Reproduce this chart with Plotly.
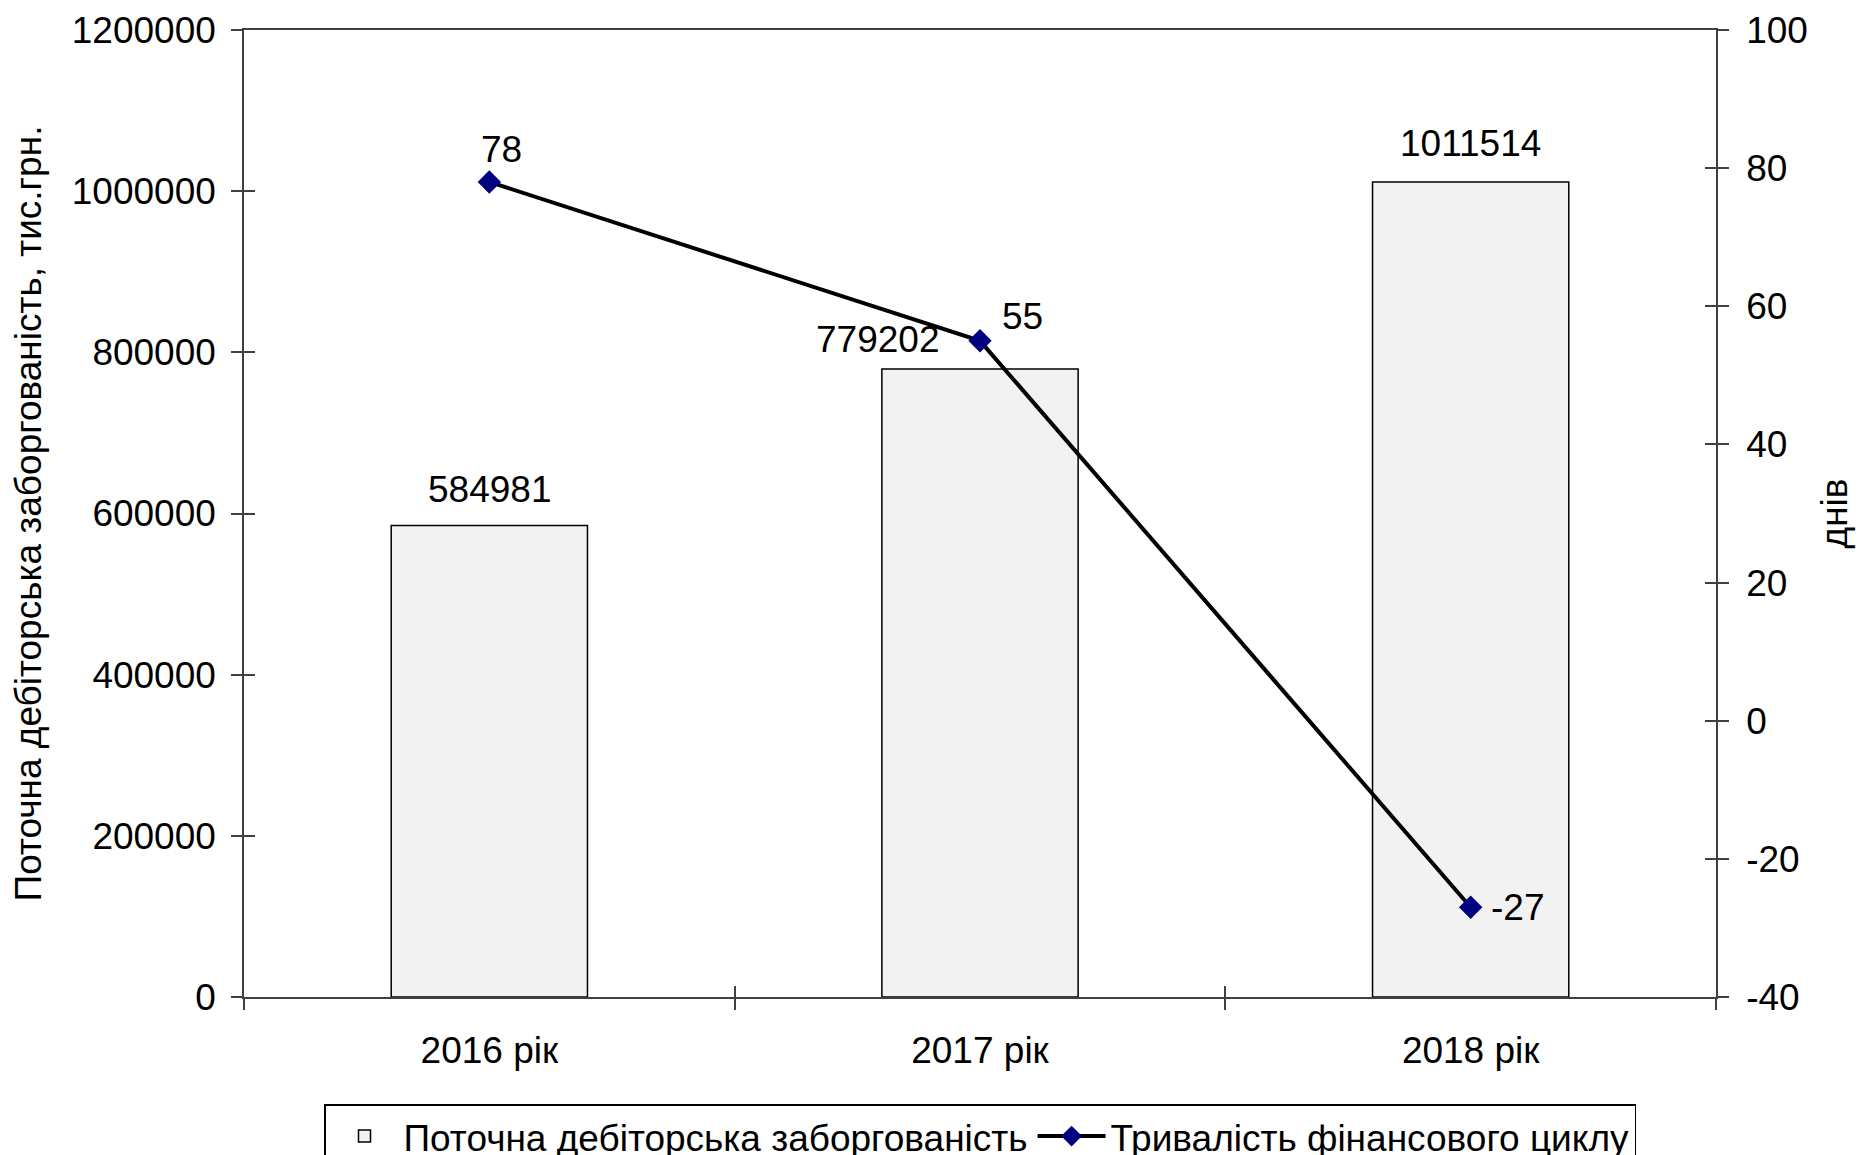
import plotly.graph_objects as go

categories = ["2016 рік", "2017 рік", "2018 рік"]
receivables = [584981, 779202, 1011514]
cycle_days = [78, 55, -27]
right_ticks = [-40, -20, 0, 20, 40, 60, 80, 100]

bar_name = "Поточна дебіторська заборгованість"
line_name = "Тривалість фінансового циклу"
left_title = "Поточна дебіторська заборгованість, тис.грн."
right_title = "днів"

FONT = "Liberation Sans, Arial, sans-serif"
AXIS_COLOR = "#404040"

fig = go.Figure()
fig.add_trace(go.Bar(
    x=categories, y=receivables, name=bar_name,
    marker=dict(color="#F2F2F2", line=dict(color="black", width=1.5)),
    xaxis="x", yaxis="y",
))
fig.add_trace(go.Scatter(
    x=categories, y=cycle_days, name=line_name, mode="lines+markers",
    line=dict(color="black", width=4),
    marker=dict(symbol="diamond", size=18, color="#000080"),
    xaxis="x", yaxis="y2",
))
# invisible helper traces so the inside-tick axes are drawn
fig.add_trace(go.Scatter(x=categories, y=receivables, xaxis="x2", yaxis="y3",
                         mode="markers", marker=dict(opacity=0),
                         showlegend=False, hoverinfo="skip"))
fig.add_trace(go.Scatter(x=categories, y=cycle_days, xaxis="x2", yaxis="y4",
                         mode="markers", marker=dict(opacity=0),
                         showlegend=False, hoverinfo="skip"))

# bar value labels
bar_shift = [(0, 36), (-103, 30), (0, 38)]
for c, v, (dx, dy) in zip(categories, receivables, bar_shift):
    fig.add_annotation(x=c, y=v, xref="x", yref="y", text=str(v), showarrow=False,
                       xshift=dx, yshift=dy, yanchor="middle",
                       font=dict(size=37, color="black", family=FONT))

# line value labels
line_shift = [(12, 32, "center"), (20, 24, "left"), (18, 0, "left")]
for c, v, (dx, dy, xa) in zip(categories, cycle_days, line_shift):
    fig.add_annotation(x=c, y=v, xref="x", yref="y2", text=str(v), showarrow=False,
                       xshift=dx, yshift=dy, xanchor=xa, yanchor="middle",
                       font=dict(size=37, color="black", family=FONT))

tick_common = dict(ticklen=11, tickcolor=AXIS_COLOR, tickwidth=1.5, showgrid=False,
                   zeroline=False, automargin=False)

fig.update_layout(
    width=1865, height=1155,
    margin=dict(l=236, r=157, t=22, b=166, autoexpand=False),
    paper_bgcolor="white", plot_bgcolor="white",
    font=dict(family=FONT, size=37, color="black"),
    bargap=0.6,
    showlegend=True,
    legend=dict(orientation="h", x=0.5, xanchor="center", y=-0.1107, yanchor="top",
                bordercolor="black", borderwidth=1.5, bgcolor="rgba(255,255,255,0)",
                font=dict(size=37, family=FONT, color="black"),
                traceorder="normal", tracegroupgap=0, itemwidth=68),
    xaxis=dict(showline=True, linecolor=AXIS_COLOR, linewidth=1.5, mirror=True,
               ticks="outside", tickson="boundaries", ticklabelstandoff=20,
               tickfont=dict(size=37, family=FONT, color="black"), **tick_common),
    xaxis2=dict(overlaying="x", matches="x", side="bottom", showline=False,
                ticks="inside", tickson="boundaries", showticklabels=False,
                **tick_common),
    yaxis=dict(range=[0, 1200000], dtick=200000, showline=True, linecolor=AXIS_COLOR,
               linewidth=1.5, ticks="outside", tickformat="d", ticklabelstandoff=8,
               tickfont=dict(size=37, family=FONT, color="black"),
               title=dict(text=left_title, standoff=22,
                          font=dict(size=37, family=FONT, color="black")),
               **tick_common),
    yaxis2=dict(range=[-40, 100], tickvals=right_ticks,
                ticktext=[str(t) for t in right_ticks], overlaying="y", side="right",
                showline=True, linecolor=AXIS_COLOR, linewidth=1.5, ticks="outside",
                ticklabelstandoff=10,
                tickfont=dict(size=37, family=FONT, color="black"),
                title=dict(text=right_title, standoff=14,
                           font=dict(size=37, family=FONT, color="black")),
                **tick_common),
    yaxis3=dict(range=[0, 1200000], dtick=200000, overlaying="y", side="left",
                anchor="x2", showline=False, ticks="inside", showticklabels=False,
                **tick_common),
    yaxis4=dict(range=[-40, 100], tickvals=right_ticks, overlaying="y", side="right",
                anchor="x2", showline=False, ticks="inside", showticklabels=False,
                **tick_common),
)

fig.write_html("out.html")
